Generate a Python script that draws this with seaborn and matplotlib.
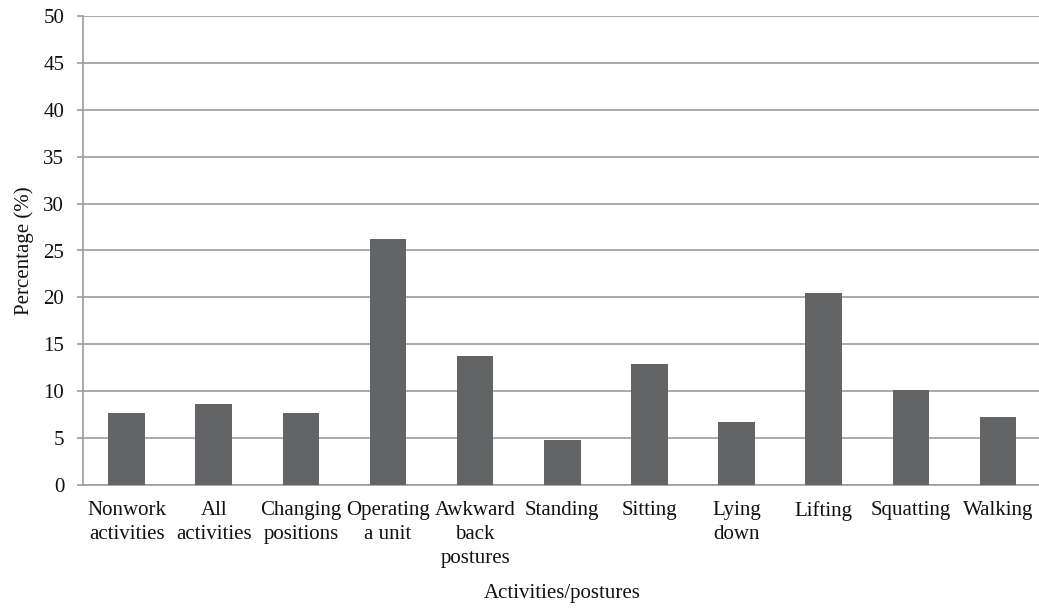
import matplotlib
matplotlib.use("Agg")
import matplotlib.pyplot as plt
import seaborn as sns
import pandas as pd

categories = ["Nonwork\nactivities", "All\nactivities", "Changing\npositions",
              "Operating\na unit", "Awkward\nback\npostures", "Standing",
              "Sitting", "Lying\ndown", "Lifting", "Squatting", "Walking"]
values = [7.7, 8.6, 7.7, 26.2, 13.8, 4.8, 12.9, 6.7, 20.5, 10.1, 7.2]
y_ticks = [0, 5, 10, 15, 20, 25, 30, 35, 40, 45, 50]

sns.set_theme(style="white")
plt.rcParams['font.family'] = ['Liberation Serif', 'DejaVu Serif']

df = pd.DataFrame({"cat": categories, "val": values})

W, H = 1039, 609
fig = plt.figure(figsize=(W / 100, H / 100), dpi=100)
ax = fig.add_axes([83 / W, 124 / H, 958.6 / W, 469 / H])

grid_c = "#9c9c9e"
sns.barplot(data=df, x="cat", y="val", color="#636466", width=0.42,
            saturation=1, ax=ax, zorder=3)
for p in ax.patches:
    p.set_edgecolor("none")

ax.set_ylim(0, 50)
ax.set_yticks(y_ticks)
ax.yaxis.grid(True, color=grid_c, linewidth=1.2, zorder=0)
ax.xaxis.grid(False)
ax.set_axisbelow(True)

for s in ["top", "right"]:
    ax.spines[s].set_visible(False)
for s in ["left", "bottom"]:
    ax.spines[s].set_visible(True)
    ax.spines[s].set_color(grid_c)
    ax.spines[s].set_linewidth(1.2)

ax.tick_params(axis="y", which="both", left=True, length=4.5, width=1.2,
               color=grid_c, pad=9, labelsize=15, labelcolor="#111111")
ax.tick_params(axis="x", bottom=False, length=0, pad=11.5, labelsize=15,
               labelcolor="#111111")
for t in ax.get_xticklabels():
    t.set_linespacing(1.35)

ax.set_xlabel("Activities/postures", fontsize=15, color="#111111", labelpad=12)
ax.set_ylabel("Percentage (%)", fontsize=15, color="#111111", labelpad=7)

fig.savefig("out.png", dpi=100, facecolor="white")
